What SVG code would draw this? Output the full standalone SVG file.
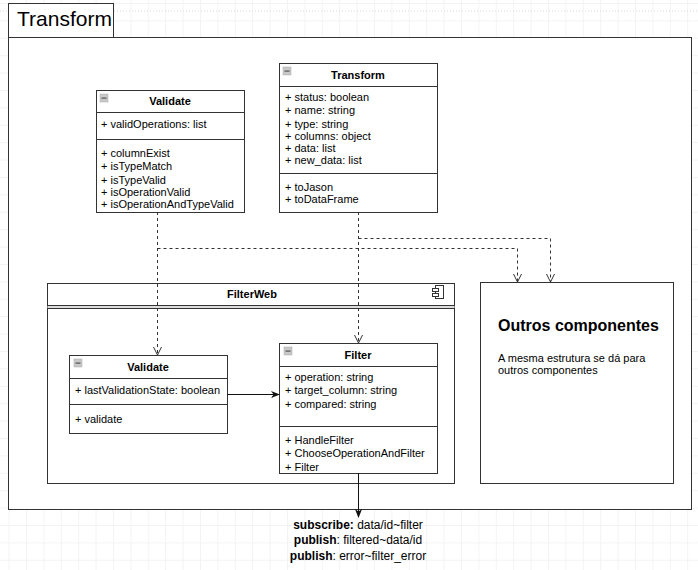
<svg xmlns="http://www.w3.org/2000/svg" width="698" height="570" viewBox="0 0 698 570">
<defs>
<pattern id="grid" x="8.6" y="3" width="17.4" height="17.4" patternUnits="userSpaceOnUse">
<path d="M0 0.5H17.4M0.5 0V17.4" fill="none" stroke="#f3f3f3" stroke-width="1"/>
</pattern>
<marker id="open" viewBox="0 0 10 10" refX="9" refY="5" markerWidth="10" markerHeight="10" markerUnits="userSpaceOnUse" orient="auto">
<path d="M1 1L9 5L1 9" fill="none" stroke="#333" stroke-width="1"/>
</marker>
<marker id="solid" viewBox="0 0 10 10" refX="9" refY="5" markerWidth="9" markerHeight="9" markerUnits="userSpaceOnUse" orient="auto">
<path d="M0 1L10 5L0 9L3 5Z" fill="#111" stroke="none"/>
</marker>
<g id="minus">
<rect x="0" y="0" width="8" height="8" fill="#c8c8c8" stroke="#aaa" stroke-width="0.5"/>
<rect x="1.5" y="3.5" width="5" height="1.2" fill="#555"/>
</g>
</defs>
<style>
text{font-family:"Liberation Sans",Arial,Helvetica,sans-serif;fill:#000;}
.m{font-size:11px;}
.h{font-size:11px;font-weight:bold;text-anchor:middle;}
.box{fill:#fff;stroke:#333;stroke-width:1;}
.ln{stroke:#333;stroke-width:1;fill:none;}
.dash{stroke:#333;stroke-width:1;fill:none;stroke-dasharray:3 3;}
.sol{stroke:#111;stroke-width:1;fill:none;}
.b{font-weight:bold;}
.lbl{font-size:12px;text-anchor:middle;}
</style>
<rect width="698" height="570" fill="#fff"/>
<rect width="698" height="570" fill="url(#grid)"/>
<line x1="0" y1="11" x2="698" y2="11" stroke="#d8d8d8" stroke-dasharray="1 2"/>

<g id="frame">
<rect class="box" x="8.5" y="37.5" width="683" height="472"/>
<rect class="box" x="8.5" y="3.5" width="105" height="34"/>
<text x="17" y="26" font-size="21">Transform</text>
</g>

<g id="validate-top">
<rect class="box" x="96.5" y="90.5" width="148" height="122"/>
<line class="ln" x1="96.5" y1="112.5" x2="244.5" y2="112.5"/>
<line class="ln" x1="96.5" y1="139.5" x2="244.5" y2="139.5"/>
<use href="#minus" x="100" y="94"/>
<text class="h" x="170" y="105">Validate</text>
<text class="m" x="101" y="128">+ validOperations: list</text>
<text class="m" x="101" y="157">+ columnExist</text>
<text class="m" x="101" y="170">+ isTypeMatch</text>
<text class="m" x="101" y="184">+ isTypeValid</text>
<text class="m" x="101" y="196">+ isOperationValid</text>
<text class="m" x="101" y="208">+ isOperationAndTypeValid</text>
</g>

<g id="transform-class">
<rect class="box" x="279.5" y="63.5" width="158" height="149"/>
<line class="ln" x1="279.5" y1="86.5" x2="437.5" y2="86.5"/>
<line class="ln" x1="279.5" y1="173.5" x2="437.5" y2="173.5"/>
<use href="#minus" x="283" y="67"/>
<text class="h" x="358" y="79">Transform</text>
<text class="m" x="285" y="101">+ status: boolean</text>
<text class="m" x="285" y="114">+ name: string</text>
<text class="m" x="285" y="128">+ type: string</text>
<text class="m" x="285" y="140">+ columns: object</text>
<text class="m" x="285" y="152">+ data: list</text>
<text class="m" x="285" y="164">+ new_data: list</text>
<text class="m" x="285" y="191">+ toJason</text>
<text class="m" x="285" y="203">+ toDataFrame</text>
</g>

<g id="filterweb">
<rect class="box" x="47.5" y="283.5" width="407" height="200"/>
<line class="ln" x1="47.5" y1="305.5" x2="454.5" y2="305.5"/>
<line x1="47.5" y1="307" x2="454.5" y2="307" stroke="#ddd" stroke-width="2"/>
<line class="ln" x1="47.5" y1="308.5" x2="454.5" y2="308.5"/>
<text class="h" x="252" y="298">FilterWeb</text>
<g fill="#fff" stroke="#333" stroke-width="1">
<rect x="435.5" y="285.5" width="8" height="13"/>
<rect x="432.5" y="288.5" width="6" height="3"/>
<rect x="432.5" y="293.5" width="6" height="3"/>
</g>
</g>

<g id="validate-inner">
<rect class="box" x="69.5" y="355.5" width="158" height="78"/>
<line class="ln" x1="69.5" y1="378.5" x2="227.5" y2="378.5"/>
<line class="ln" x1="69.5" y1="404.5" x2="227.5" y2="404.5"/>
<use href="#minus" x="74" y="359"/>
<text class="h" x="148" y="371">Validate</text>
<text class="m" x="75" y="394">+ lastValidationState: boolean</text>
<text class="m" x="75" y="423">+ validate</text>
</g>

<g id="filter">
<rect class="box" x="279.5" y="343.5" width="158" height="130"/>
<line class="ln" x1="279.5" y1="366.5" x2="437.5" y2="366.5"/>
<line class="ln" x1="279.5" y1="426.5" x2="437.5" y2="426.5"/>
<use href="#minus" x="284" y="347"/>
<text class="h" x="358" y="359">Filter</text>
<text class="m" x="285" y="381">+ operation: string</text>
<text class="m" x="285" y="394">+ target_column: string</text>
<text class="m" x="285" y="408">+ compared: string</text>
<text class="m" x="285" y="444">+ HandleFilter</text>
<text class="m" x="285" y="457">+ ChooseOperationAndFilter</text>
<text class="m" x="285" y="471">+ Filter</text>
</g>

<g id="outros">
<rect class="box" x="480.5" y="282.5" width="193" height="201"/>
<text x="498" y="331" font-size="16" font-weight="bold">Outros componentes</text>
<text class="m" x="498" y="362">A mesma estrutura se dá para</text>
<text class="m" x="498" y="374">outros componentes</text>
</g>

<g id="connectors">
<path class="dash" d="M157.5 212V355" marker-end="url(#open)"/>
<path class="dash" d="M157.5 248.5H517.5V282" marker-end="url(#open)"/>
<path class="dash" d="M358.5 212V343" marker-end="url(#open)"/>
<path class="dash" d="M358.5 238.5H550.5V282" marker-end="url(#open)"/>
<path class="sol" d="M227 394.5H279" marker-end="url(#solid)"/>
<path class="sol" d="M358.5 473V517" marker-end="url(#solid)"/>
</g>

<g id="labels">
<text class="lbl" x="358" y="529"><tspan class="b">subscribe:</tspan> data/id~filter</text>
<text class="lbl" x="358" y="544"><tspan class="b">publish</tspan>: filtered~data/id</text>
<text class="lbl" x="358" y="560"><tspan class="b">publish</tspan>: error~filter_error</text>
</g>
</svg>
